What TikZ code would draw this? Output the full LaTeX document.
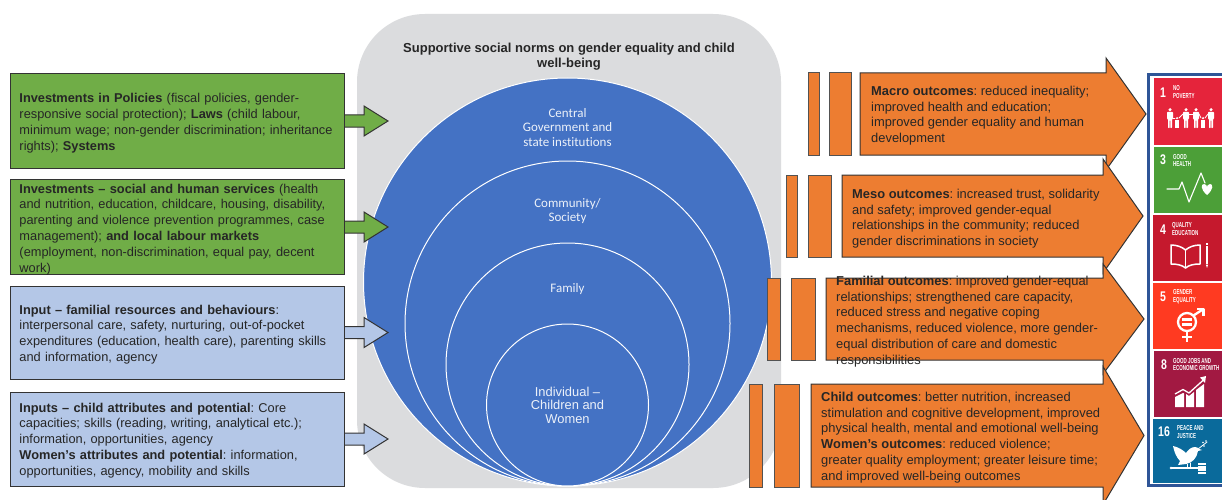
\documentclass[tikz,border=0pt]{standalone}
\usepackage{fontspec}
\setmainfont{Liberation Sans}
\newfontfamily\carl[Ligatures=NoCommon]{Carlito}
\newfontfamily\sdgf[FakeStretch=0.62]{Liberation Sans}
\newfontfamily\sdgn[FakeStretch=0.75]{Liberation Sans}
\definecolor{inkc}{HTML}{262626}
\definecolor{edgec}{HTML}{333333}
\definecolor{greyc}{HTML}{DBDCDE}
\definecolor{bluec}{HTML}{4472C4}
\definecolor{greenc}{HTML}{70AD47}
\definecolor{paleb}{HTML}{B4C7E7}
\definecolor{orangec}{HTML}{ED7D31}
\definecolor{framec}{HTML}{2F5597}
\definecolor{sdgA}{HTML}{E5243B}
\definecolor{sdgB}{HTML}{4C9F38}
\definecolor{sdgC}{HTML}{C5192D}
\definecolor{sdgD}{HTML}{FF3A21}
\definecolor{sdgE}{HTML}{A21942}
\definecolor{sdgF}{HTML}{0A6A9B}
\frenchspacing
\newcommand{\apos}{\char39\relax}
\newcommand{\firstl}[1]{\rule{0pt}{#1pt}}
\newcommand{\inarrow}[2]{\draw[arrowline,fill=#2] (#1.east) ++(0,-6) -- ++(19,0) -- ++(0,-9) -- ++(24,15) -- ++(-24,15) -- ++(0,-9) -- ++(-19,0);}
\newcommand{\outarrow}[6]{% left, top, bottom, head base x, tip x, head half height
  \draw[arrowline,fill=orangec] (#1,#2) -- (#4,#2) -- (#4,{(#2+#3)/2-#6}) -- (#5,{(#2+#3)/2}) -- (#4,{(#2+#3)/2+#6}) -- (#4,#3) -- (#1,#3) -- cycle;}
\newcommand{\bars}[6]{\draw[barline] (#1,#5) rectangle (#2,#6); \draw[barline] (#3,#5) rectangle (#4,#6);}
\newcommand{\adult}[2]{% x, top y
  \fill[white] (#1,#2+1.7) circle (1.7);
  \fill[white,rounded corners=0.6] (#1-3,#2+4) -- (#1+3,#2+4) -- (#1+3,#2+11) -- (#1+2,#2+11) -- (#1+2,#2+20) -- (#1+0.3,#2+20) -- (#1+0.3,#2+12) -- (#1-0.3,#2+12) -- (#1-0.3,#2+20) -- (#1-2,#2+20) -- (#1-2,#2+11) -- (#1-3,#2+11) -- cycle;}
\newcommand{\kid}[2]{% x, top y
  \fill[white] (#1,#2+1.2) circle (1.2);
  \fill[white] (#1-1.7,#2+3) rectangle (#1+1.7,#2+11);}
\tikzset{
  boxn/.style={draw=edgec,line width=1pt,rectangle,anchor=west,minimum width=334pt,text width=316pt,inner xsep=9pt,inner ysep=0pt,align=left,text=inkc,font=\fontsize{12.8}{15.8}\selectfont},
  arrowline/.style={draw=edgec,line width=1pt,line join=miter},
  barline/.style={draw=edgec!85!white,line width=1pt,fill=orangec},
  outtext/.style={anchor=north west,inner sep=0pt,align=left,text=inkc,font=\fontsize{12.9}{15.8}\selectfont},
  ring/.style={circle,draw=white,line width=1pt,inner sep=0pt,fill=bluec},
  ringtext/.style={anchor=north,inner sep=0pt,align=center,text=white!90!bluec},
  tilen/.style={anchor=center,inner sep=0pt,text=white,font=\sdgn\bfseries\fontsize{14}{14}\selectfont},
  tilet/.style={anchor=west,inner sep=0pt,align=left,text=white,font=\sdgf\bfseries\fontsize{7.2}{7.6}\selectfont},
  iconl/.style={draw=white,line cap=round,line join=round}
}
\begin{document}
\begin{tikzpicture}[x=1pt,y=-1pt]
\useasboundingbox (0,0) rectangle (1222,500);
\clip (0,0) rectangle (1222,500);
\fill[white] (0,0) rectangle (1222,500);
% backdrop
\fill[greyc,rounded corners=68pt] (357,14) rectangle (781,488);
\node[anchor=north,inner sep=0pt,align=center,text=inkc,font=\bfseries\fontsize{13}{15.8}\selectfont] (title) at (569,42) {\firstl{10}Supportive social norms on gender equality and child\\well-being};
% nested circles
\node[ring,minimum size=408pt] (c1) at (567.5,282) {};
\node[ring,minimum size=325pt] (c2) at (567.5,323.5) {};
\node[ring,minimum size=243pt] (c3) at (567.5,364.5) {};
\node[ring,minimum size=162pt] (c4) at (567.5,405) {};
\node[ringtext,font=\carl\fontsize{13}{14.6}\selectfont] (t1) at (567.5,107) {\firstl{10}Central\\Government and\\state institutions};
\node[ringtext,font=\carl\fontsize{13}{14.6}\selectfont] (t2) at (567.5,197) {\firstl{10}Community/\\Society};
\node[ringtext,font=\carl\fontsize{13}{14.6}\selectfont] (t3) at (567.5,282) {\firstl{10}Family};
\node[ringtext,font=\fontsize{12.9}{13.6}\selectfont] (t4) at (567.5,386) {\firstl{10}Individual --\\Children and\\Women};
% inputs
\node[boxn,fill=greenc,minimum height=94pt] (g1) at (10,121) {\firstl{14}\textbf{Investments in Policies} (fiscal policies, gender-\\responsive social protection); \textbf{Laws} (child labour,\\minimum wage; non-gender discrimination; inheritance\\rights); \textbf{Systems}};
\node[boxn,fill=greenc,minimum height=94pt] (g2) at (10,227) {\firstl{13.7}\textbf{Investments -- social and human services} (health\\and nutrition, education, childcare, housing, disability,\\parenting and violence prevention programmes, case\\management); \textbf{and local labour markets}\\(employment, non-discrimination, equal pay, decent\\work)};
\node[boxn,fill=paleb,minimum height=93pt] (b1) at (10,332.5) {\firstl{13.1}\textbf{Input -- familial resources and behaviours}:\\interpersonal care, safety, nurturing, out-of-pocket\\expenditures (education, health care), parenting skills\\and information, agency};
\node[boxn,fill=paleb,minimum height=94pt] (b2) at (10,439) {\firstl{11.9}\textbf{Inputs -- child attributes and potential}: Core\\capacities; skills (reading, writing, analytical etc.);\\information, opportunities, agency\\\textbf{Women\apos s attributes and potential}: information,\\opportunities, agency, mobility and skills};
\inarrow{g1}{greenc}
\inarrow{g2}{greenc}
\inarrow{b1}{paleb}
\inarrow{b2}{paleb}
% outcomes
\bars{808}{819}{829}{851}{73}{155}
\outarrow{860}{73}{155}{1106}{1146}{56}
\bars{786}{797}{808}{831}{175}{257}
\outarrow{842}{175}{257}{1103}{1143}{57}
\bars{767}{780}{791}{815}{278}{360}
\outarrow{826}{278}{360}{1103}{1144}{55}
\bars{749}{762}{774}{799}{384}{487}
\outarrow{811}{384}{487}{1103}{1144}{69}
\node[outtext] (macro) at (871,85) {\firstl{10}\textbf{Macro outcomes}: reduced inequality;\\improved health and education;\\improved gender equality and human\\development};
\node[outtext] (meso) at (852,188) {\firstl{10}\textbf{Meso outcomes}: increased trust, solidarity\\and safety; improved gender-equal\\relationships in the community; reduced\\gender discriminations in society};
\node[outtext] (fam) at (836,275) {\firstl{10}\textbf{Familial outcomes}: improved gender-equal\\relationships; strengthened care capacity,\\reduced stress and negative coping\\mechanisms, reduced violence, more gender-\\equal distribution of care and domestic\\responsibilities};
\node[outtext] (child) at (821,391) {\firstl{10}\textbf{Child outcomes}: better nutrition, increased\\stimulation and cognitive development, improved\\physical health, mental and emotional well-being\\\textbf{Women\apos s outcomes}: reduced violence;\\greater quality employment; greater leisure time;\\and improved well-being outcomes};
% SDG panel
\fill[white] (1147,73) rectangle (1222,487);
\draw[framec,line width=3pt] (1222,74.5) -- (1148.5,74.5) -- (1148.5,485.5) -- (1222,485.5);
\fill[sdgA] (1154,78) rectangle (1222,145);
\fill[sdgB] (1154,147) rectangle (1222,213);
\fill[sdgC] (1153,215) rectangle (1222,281);
\fill[sdgD] (1153,283) rectangle (1222,349);
\fill[sdgE] (1154,351) rectangle (1222,417);
\fill[sdgF] (1153,419) rectangle (1222,483);
% tile 1
\node[tilen] (n1) at (1163,93) {1};
\node[tilet] (l1) at (1173,92) {NO\\POVERTY};
\adult{1170}{108}\kid{1177}{117}\adult{1186}{108}\adult{1196}{108}\kid{1203}{117}\adult{1211}{108}
\draw[iconl,line width=0.8] (1173,118) -- (1175,118);
\draw[iconl,line width=0.8] (1179,118) -- (1183,114);
\draw[iconl,line width=0.8] (1189,114) -- (1193,114);
\draw[iconl,line width=0.8] (1199,114) -- (1201,118);
\draw[iconl,line width=0.8] (1205,118) -- (1208,114);
% tile 3
\node[tilen] (n3) at (1163,160) {3};
\node[tilet] (l3) at (1173,160.5) {GOOD\\HEALTH};
\draw[iconl,line width=1.1] (1167,189) -- (1179,189) -- (1182,182) -- (1189,202) -- (1201,173) -- (1205,183);
\fill[white] (1207,195) .. controls (1200,189) and (1201,184) .. (1204,184) .. controls (1206,184) and (1207,186) .. (1207,187) .. controls (1207,186) and (1208,184) .. (1210,184) .. controls (1213,184) and (1214,189) .. (1207,195);
% tile 4
\node[tilen] (n4) at (1163,230) {4};
\node[tilet] (l4) at (1172,229) {QUALITY\\EDUCATION};
\draw[iconl,line width=1.5] (1171,245) .. controls (1177,245) and (1182,247) .. (1185.5,250) .. controls (1189,247) and (1194,245) .. (1200,245) -- (1200,264) .. controls (1194,264) and (1189,265) .. (1185.5,268) .. controls (1182,265) and (1177,264) .. (1171,264) -- cycle;
\draw[iconl,line width=1.1] (1185.5,250) -- (1185.5,268);
\fill[white] (1205.8,246) rectangle (1208.2,264);
\fill[white] (1205.8,264.5) -- (1208.2,264.5) -- (1207,268) -- cycle;
\fill[white] (1205.8,243) rectangle (1208.2,245);
% tile 5
\node[tilen] (n5) at (1163,297) {5};
\node[tilet] (l5) at (1173,296.5) {GENDER\\EQUALITY};
\draw[iconl,line width=2.3] (1187,322) circle (9);
\draw[iconl,line width=2.2,line cap=butt] (1182,319.5) -- (1192,319.5);
\draw[iconl,line width=2.2,line cap=butt] (1182,324.5) -- (1192,324.5);
\draw[iconl,line width=2.3,line cap=butt] (1187,331) -- (1187,342);
\draw[iconl,line width=2.3,line cap=butt] (1182,337) -- (1192,337);
\draw[iconl,line width=2.3,line cap=butt] (1193.5,315.5) -- (1202,310);
\draw[iconl,line width=2.1,line cap=butt] (1197,309.2) -- (1203.5,309.2) -- (1203.5,315.5);
% tile 8
\node[tilen] (n8) at (1164,365) {8};
\node[tilet] (l8) at (1173,364.5) {GOOD JOBS AND\\ECONOMIC GROWTH};
\fill[white] (1175,397) -- (1183,393) -- (1184,393.5) -- (1184,407) -- (1175,407) -- cycle;
\fill[white] (1186,394) -- (1189,396) -- (1194,392) -- (1194,407) -- (1186,407) -- cycle;
\fill[white] (1196,390) -- (1204,384) -- (1204,407) -- (1196,407) -- cycle;
\draw[iconl,line width=1.3,line cap=butt] (1175,394) -- (1183,389.5) -- (1189,393) -- (1204,379.5);
\fill[white] (1206,376) -- (1200,377.5) -- (1205,383) -- cycle;
% tile 16
\node[tilen] (n16) at (1164,432) {16};
\node[tilet] (l16) at (1177,432) {PEACE AND\\JUSTICE};
\fill[white] (1173,446) .. controls (1178,447) and (1183,450) .. (1186,453) .. controls (1188,450) and (1191,447) .. (1195,447) .. controls (1197,447) and (1198,448) .. (1199,449) -- (1202,450) -- (1198,451) .. controls (1197,458) and (1192,463) .. (1186,464) -- (1178,465) -- (1180,461) .. controls (1176,457) and (1174,451) .. (1173,446) -- cycle;
\draw[iconl,line width=0.8] (1198,449) -- (1207,442);
\fill[white] (1203,442.5) circle (0.9);
\fill[white] (1206,441) circle (0.9);
\fill[white] (1204,446) circle (0.9);
\fill[white] (1171,467) rectangle (1198,469);
\fill[white] (1171,468) circle (1.4);
\fill[white] (1198,463) rectangle (1206,474);
\draw[sdgF,line width=0.6] (1198,465.5) -- (1206,465.5);
\draw[sdgF,line width=0.6] (1198,471.5) -- (1206,471.5);
\draw[iconl,line width=1] (1187,464) -- (1187,468);
\draw[iconl,line width=1] (1190,463) -- (1190,468);
\end{tikzpicture}
\end{document}
